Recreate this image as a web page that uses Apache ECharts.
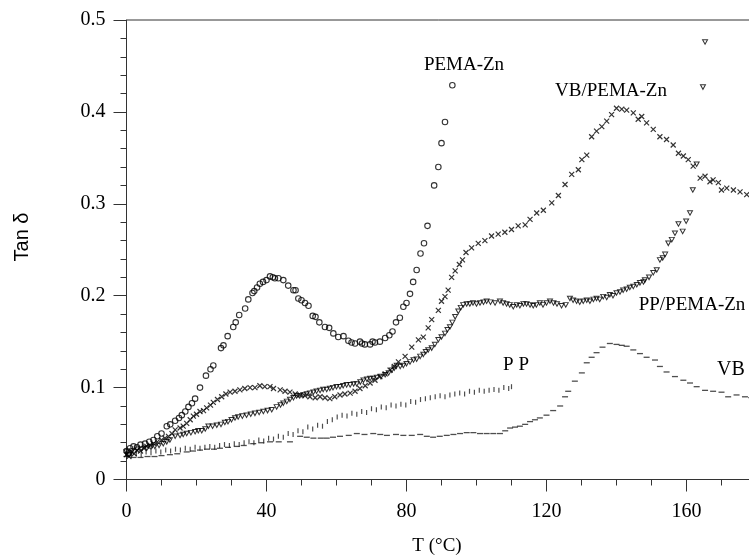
<!DOCTYPE html>
<html>
<head>
<meta charset="utf-8">
<script src="https://cdn.jsdelivr.net/npm/echarts@6/dist/echarts.min.js"></script>
<style>html,body{margin:0;padding:0;background:#fff}#c{width:749px;height:556px}</style>
</head>
<body>
<div id="c"></div>
<script>
// Axis ticks
const xTicks = [0, 40, 80, 120, 160];
const yTicks = [0, 0.1, 0.2, 0.3, 0.4, 0.5];

// PEMA-Zn (open circles) [T, tan delta]
const pemaZn = [[0,0.031],[0.5,0.028],[1,0.034],[2,0.036],[3,0.035],[4,0.038],[5.3,0.039],[6.5,0.041],[7.7,0.043],[8.8,0.047],[10,0.050],[11.5,0.058],[12.5,0.060],[13.9,0.064],[15,0.067],[15.8,0.070],[16.8,0.074],[17.7,0.079],[18.7,0.083],[19.6,0.088],[21,0.100],[22.7,0.113],[24,0.120],[24.8,0.124],[27,0.143],[27.7,0.146],[28.9,0.156],[30.5,0.166],[31.2,0.171],[32.2,0.179],[33.9,0.186],[34.8,0.196],[36,0.203],[36.5,0.205],[37.3,0.209],[38.1,0.213],[39,0.215],[40,0.217],[41,0.221],[41.8,0.220],[42.4,0.219],[43.4,0.219],[44.8,0.217],[46.2,0.211],[47.7,0.206],[48.3,0.206],[49.1,0.197],[50,0.195],[51,0.192],[52,0.189],[53.2,0.178],[54,0.177],[55.1,0.171],[56.7,0.166],[57.9,0.165],[59.1,0.159],[60.5,0.155],[62,0.156],[63.4,0.151],[64.3,0.149],[65.3,0.148],[66.7,0.150],[67.3,0.148],[68.1,0.147],[69.6,0.147],[70.3,0.150],[71,0.149],[72.4,0.150],[73.9,0.154],[75.1,0.157],[76,0.161],[77,0.171],[78.1,0.176],[79.1,0.188],[80,0.192],[81,0.202],[81.9,0.215],[82.9,0.228],[84,0.246],[85,0.257],[86,0.276],[87.9,0.320],[89.1,0.340],[90,0.366],[91,0.389],[93.1,0.429]];

// VB/PEMA-Zn (crosses)
const vbPemaZn = [[0,0.027],[0.7,0.025],[1.5,0.030],[2.2,0.028],[3,0.032],[4,0.031],[5,0.034],[5.8,0.036],[6.8,0.037],[7.7,0.039],[8.8,0.041],[10,0.043],[11,0.045],[12,0.047],[13,0.050],[13.9,0.054],[15.3,0.056],[16.2,0.058],[17.2,0.061],[18.2,0.065],[19.1,0.069],[20,0.071],[21,0.074],[22,0.075],[22.9,0.078],[24,0.081],[24.8,0.084],[26,0.087],[27.2,0.090],[28.4,0.093],[29.6,0.095],[31,0.096],[32.4,0.0975],[33.8,0.099],[35.3,0.100],[36.7,0.100],[38.1,0.102],[39.5,0.101],[41,0.101],[42,0.099],[43.9,0.0975],[45.3,0.096],[46.7,0.095],[48.2,0.093],[49.6,0.092],[51,0.091],[52.4,0.090],[53.9,0.089],[55.3,0.090],[56.7,0.089],[58.1,0.088],[59.5,0.090],[61,0.092],[62.4,0.093],[63.9,0.094],[65.3,0.096],[66.7,0.099],[68.2,0.102],[69.6,0.105],[71,0.108],[72.4,0.112],[73.9,0.115],[75.3,0.119],[76.5,0.123],[77.7,0.128],[79.6,0.134],[81.5,0.144],[83.4,0.152],[84.8,0.155],[86.2,0.165],[87.2,0.174],[89.1,0.184],[90,0.194],[91,0.199],[91.9,0.206],[92.9,0.220],[93.9,0.227],[95.1,0.234],[96,0.239],[97,0.247],[98.6,0.252],[100.5,0.257],[102.4,0.260],[104.3,0.265],[106.2,0.267],[108.1,0.269],[110,0.272],[111.9,0.276],[113.9,0.277],[115.3,0.283],[117.2,0.290],[119.1,0.293],[121.5,0.301],[123.4,0.309],[125.3,0.321],[127.2,0.332],[129.1,0.337],[130.1,0.348],[131.5,0.353],[132.9,0.373],[134.3,0.379],[135.8,0.384],[137.2,0.390],[138.6,0.397],[140,0.404],[141.5,0.403],[142.9,0.402],[144.8,0.399],[146.2,0.392],[147.2,0.395],[148.6,0.388],[150.5,0.381],[152.4,0.373],[154.3,0.370],[156.2,0.364],[157.7,0.355],[159.1,0.352],[160.5,0.348],[161.9,0.341],[163.9,0.328],[165.3,0.330],[166.7,0.324],[167.6,0.326],[169.1,0.323],[170,0.315],[171.5,0.317],[173.4,0.315],[175.3,0.313],[177.2,0.310]];

// PP/PEMA-Zn (open down-triangles)
const ppPemaZn = [[0,0.030],[0.8,0.027],[1.6,0.031],[3,0.033],[4.3,0.033],[5.8,0.034],[7,0.035],[8.1,0.036],[9.3,0.037],[10.5,0.039],[11.5,0.041],[12.4,0.043],[13.9,0.047],[15.3,0.048],[16.2,0.049],[17.2,0.050],[18.4,0.051],[19.6,0.052],[20.5,0.053],[21.5,0.053],[22.5,0.055],[23.4,0.058],[24.6,0.058],[25.8,0.059],[27,0.060],[28.1,0.062],[29,0.063],[30,0.065],[31,0.067],[31.9,0.068],[33.1,0.069],[34.3,0.070],[35.5,0.071],[36.7,0.072],[37.9,0.073],[39.1,0.074],[40.3,0.075],[41.5,0.076],[42.9,0.079],[44,0.081],[44.8,0.083],[45.8,0.085],[46.7,0.087],[47.7,0.089],[48.6,0.091],[49.5,0.091],[50.5,0.092],[51.5,0.093],[52.4,0.094],[53.4,0.095],[54.3,0.096],[55.3,0.097],[56.2,0.098],[57.2,0.098],[58.1,0.099],[59,0.100],[60,0.101],[61,0.101],[61.9,0.102],[62.9,0.103],[63.9,0.103],[64.9,0.104],[65.8,0.104],[66.8,0.106],[67.7,0.108],[68.7,0.109],[69.6,0.110],[70.5,0.110],[71.5,0.111],[72.7,0.112],[73.9,0.114],[74.9,0.116],[75.8,0.119],[76.5,0.121],[77.2,0.124],[78.2,0.123],[79.1,0.124],[80,0.126],[81,0.128],[82,0.130],[82.9,0.131],[83.9,0.134],[84.8,0.136],[85.5,0.139],[86.2,0.141],[87.2,0.143],[88.1,0.147],[89.1,0.152],[90,0.155],[91,0.159],[91.7,0.163],[92.4,0.166],[93.1,0.171],[93.9,0.177],[94.8,0.183],[95.5,0.187],[96.2,0.190],[97.2,0.191],[98.1,0.191],[99,0.192],[100,0.191],[101,0.192],[102,0.193],[102.9,0.194],[104,0.193],[105.3,0.192],[106.7,0.194],[107.6,0.192],[108.6,0.191],[109.5,0.190],[110.5,0.188],[111.5,0.190],[112.4,0.189],[113.4,0.191],[114.3,0.191],[115.3,0.190],[116.2,0.189],[117.1,0.190],[118.1,0.192],[119,0.190],[120,0.192],[121,0.194],[122,0.192],[123,0.191],[124.3,0.189],[125.5,0.190],[126.7,0.197],[127.6,0.195],[128.6,0.194],[129.5,0.193],[130.5,0.194],[131.5,0.195],[132.4,0.194],[133.4,0.196],[134.3,0.197],[135.2,0.196],[136.2,0.199],[137.2,0.198],[138.1,0.201],[139,0.200],[140,0.203],[141,0.204],[141.9,0.206],[142.9,0.207],[143.8,0.209],[144.8,0.210],[145.8,0.212],[146.7,0.214],[147.7,0.215],[148.1,0.217],[149.3,0.220],[150.5,0.225],[151.5,0.228],[152.4,0.239],[153.2,0.241],[153.9,0.245],[154.8,0.257],[155.8,0.261],[156.7,0.268],[157.7,0.278],[158.9,0.270],[159.9,0.281],[161,0.290],[161.8,0.315],[162.9,0.343],[164.7,0.427],[165.3,0.476]];

// PP (short vertical dashes)
const pp = [[0,0.027],[1.4,0.026],[2.8,0.028],[4.2,0.027],[5.6,0.030],[7,0.029],[8.4,0.031],[9.8,0.030],[11.2,0.032],[12.6,0.031],[14,0.033],[15.4,0.032],[16.8,0.034],[18.2,0.033],[19.6,0.035],[21,0.034],[22.4,0.035],[23.8,0.036],[25.2,0.035],[26.6,0.037],[28,0.038],[29.4,0.037],[30.8,0.039],[32.2,0.038],[33.6,0.040],[35,0.041],[36.4,0.040],[37.8,0.043],[39.2,0.042],[40.6,0.045],[42,0.044],[43.4,0.047],[44.8,0.046],[46.2,0.050],[47.6,0.049],[49,0.053],[50.4,0.052],[51.8,0.057],[53.2,0.055],[54.6,0.059],[56,0.058],[57.4,0.063],[58.8,0.065],[60.2,0.068],[61.6,0.070],[63,0.069],[64.4,0.072],[65.8,0.071],[67.2,0.074],[68.6,0.073],[70,0.077],[71.4,0.076],[72.8,0.079],[74.2,0.078],[75.6,0.081],[77,0.080],[78.4,0.082],[79.8,0.081],[81.2,0.085],[82.6,0.084],[84,0.087],[85.4,0.088],[86.8,0.089],[88.2,0.090],[89.6,0.091],[91,0.090],[92.4,0.092],[93.8,0.093],[95.2,0.094],[96.6,0.093],[98,0.096],[99.4,0.095],[100.8,0.097],[102.2,0.096],[103.6,0.097],[105,0.098],[106.4,0.097],[107.8,0.100],[109.2,0.099],[110,0.101]];

// VB (short horizontal dashes)
const vb = [[0,0.025],[2,0.024],[4,0.024],[6,0.025],[8,0.025],[10,0.026],[12.4,0.027],[14.5,0.028],[17.2,0.030],[19,0.031],[21,0.032],[23,0.033],[25,0.033],[26.7,0.034],[29,0.035],[31.5,0.036],[33.5,0.037],[36.2,0.039],[38.5,0.040],[41,0.041],[43.5,0.041],[46.7,0.041],[49.6,0.047],[51.5,0.046],[53.4,0.045],[55.5,0.045],[57.2,0.045],[59,0.046],[61,0.047],[63.5,0.048],[65.8,0.050],[68,0.049],[70.5,0.050],[72.5,0.049],[74.4,0.048],[77,0.049],[79.1,0.048],[81.5,0.048],[83.9,0.049],[85.8,0.047],[87.6,0.046],[89.5,0.047],[91.5,0.048],[93.4,0.049],[95.3,0.050],[97.2,0.051],[99.1,0.051],[101,0.050],[102.9,0.050],[104.8,0.050],[106.7,0.050],[108.2,0.053],[109.6,0.056],[111,0.057],[112.4,0.058],[113.9,0.060],[115.3,0.063],[116.7,0.065],[118.1,0.067],[120,0.070],[121.9,0.075],[123.9,0.080],[125.3,0.090],[126.2,0.096],[128.1,0.107],[130.1,0.116],[131.5,0.127],[132.9,0.133],[134.3,0.138],[136,0.144],[138.1,0.148],[140,0.147],[141.5,0.146],[142.9,0.145],[144.8,0.141],[146.7,0.137],[148.6,0.133],[151,0.130],[152.4,0.123],[154.3,0.117],[156.7,0.112],[159.1,0.108],[161,0.105],[162.9,0.101],[165.3,0.097],[167.6,0.096],[170,0.095],[171.9,0.090],[174.3,0.092],[176.7,0.090],[178.5,0.089]];

const SERIF = "'Liberation Serif','Times New Roman',serif";
const SANS = "'Liberation Sans',Arial,sans-serif";
const INK = '#000';

const chart = echarts.init(document.getElementById('c'), null, {renderer: 'canvas'});

const option = {
  animation: false,
  backgroundColor: '#fff',
  grid: {left: 126.5, top: 20, width: 630, height: 459.5, show: true, borderColor: '#333', borderWidth: 1,
    backgroundColor: 'transparent', containLabel: false, outerBoundsMode: 'none'},
  xAxis: [{
    type: 'value', min: 0, max: 180, interval: 40, position: 'bottom',
    axisLine: {show: true, lineStyle: {color: '#333', width: 1}},
    axisTick: {show: true, length: 12, lineStyle: {color: '#333'}},
    axisLabel: {margin: 22, fontFamily: SERIF, fontSize: 20, color: INK,
      formatter: v => (xTicks.indexOf(v) >= 0 ? String(v) : '')},
    splitLine: {show: false}
  }, {
    type: 'value', min: 0, max: 180, interval: 10, position: 'bottom',
    axisLine: {show: false},
    axisTick: {show: true, length: 6, lineStyle: {color: '#333'}},
    axisLabel: {show: false},
    splitLine: {show: false}
  }],
  yAxis: {
    type: 'value', min: 0, max: 0.5, interval: 0.1,
    axisLine: {show: true, lineStyle: {color: '#333', width: 1}},
    axisTick: {show: true, length: 13, lineStyle: {color: '#333'}},
    minorTick: {show: true, splitNumber: 5, length: 6, lineStyle: {color: '#333'}},
    axisLabel: {margin: 21, fontFamily: SERIF, fontSize: 20, color: INK,
      formatter: v => { const t = yTicks.find(k => Math.abs(k - v) < 1e-9); return t === undefined ? '' : String(t); }},
    splitLine: {show: false}
  },
  series: [
    {name: 'VB', type: 'scatter', data: vb, symbol: 'rect', symbolSize: [6, 1.3],
      itemStyle: {color: '#222'}},
    {name: 'PP', type: 'scatter', data: pp, symbol: 'rect', symbolSize: [1.2, 5],
      itemStyle: {color: '#222'}},
    {name: 'PP/PEMA-Zn', type: 'scatter', data: ppPemaZn, symbol: 'path://M0,0L10,0L5,9Z', symbolSize: [5, 4.5],
      itemStyle: {color: 'rgba(255,255,255,0)', borderColor: INK, borderWidth: 1}},
    {name: 'VB/PEMA-Zn', type: 'scatter', data: vbPemaZn, symbol: 'path://M0,0L10,10M10,0L0,10', symbolSize: 5,
      itemStyle: {color: 'rgba(255,255,255,0)', borderColor: INK, borderWidth: 1.2}},
    {name: 'PEMA-Zn', type: 'scatter', data: pemaZn, symbol: 'circle', symbolSize: 5.5,
      itemStyle: {color: 'rgba(255,255,255,0)', borderColor: INK, borderWidth: 1.1}}
  ],
  graphic: [
    {type: 'text', x: 464, y: 65, style: {text: 'PEMA-Zn', font: '19px ' + SERIF, fill: INK, align: 'center', verticalAlign: 'middle'}},
    {type: 'text', x: 611, y: 91, style: {text: 'VB/PEMA-Zn', font: '19px ' + SERIF, fill: INK, align: 'center', verticalAlign: 'middle'}},
    {type: 'text', x: 692, y: 305, style: {text: 'PP/PEMA-Zn', font: '19px ' + SERIF, fill: INK, align: 'center', verticalAlign: 'middle'}},
    {type: 'text', x: 516, y: 365, style: {text: 'P P', font: '19px ' + SERIF, fill: INK, align: 'center', verticalAlign: 'middle'}},
    {type: 'text', x: 731, y: 370, style: {text: 'VB', font: '20px ' + SERIF, fill: INK, align: 'center', verticalAlign: 'middle'}},
    {type: 'text', x: 437, y: 546, style: {text: 'T (°C)', font: '19px ' + SERIF, fill: INK, align: 'center', verticalAlign: 'middle'}},
    {type: 'text', x: 22, y: 237, rotation: Math.PI / 2, style: {text: 'Tan δ', font: '20px ' + SANS, fill: INK, align: 'center', verticalAlign: 'middle'}}
  ]
};
chart.setOption(option);
</script>
</body>
</html>
